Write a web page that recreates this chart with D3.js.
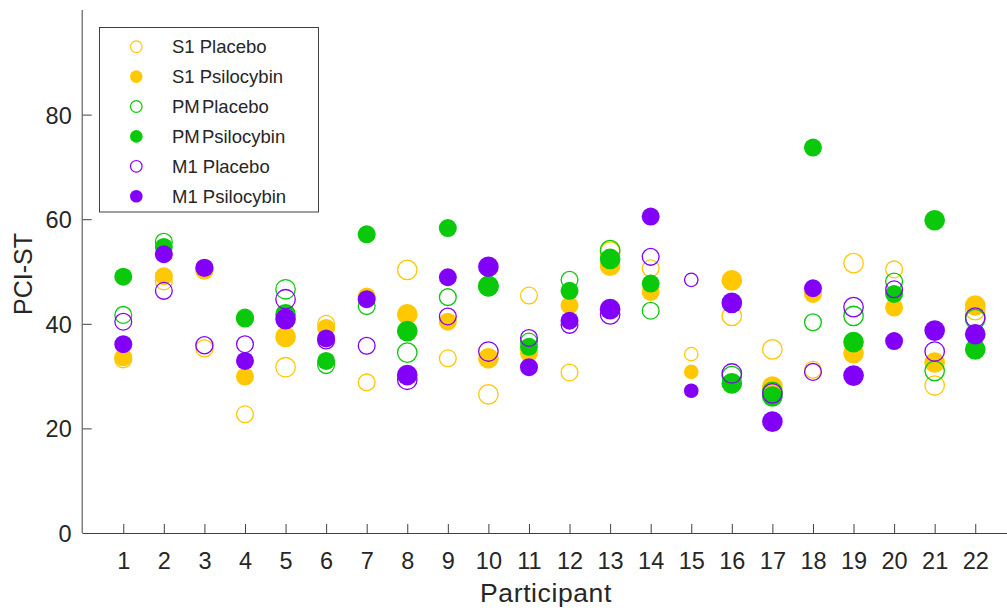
<!DOCTYPE html>
<html>
<head>
<meta charset="utf-8">
<script src="https://cdn.jsdelivr.net/npm/d3@7"></script>
<style>
  html, body { margin: 0; padding: 0; background: #fff; }
  svg { display: block; font-family: "Liberation Sans", Arial, sans-serif; }
</style>
</head>
<body>
<svg id="chart" width="1007" height="613"></svg>
<script>
// ---- data ----
const participants = [1,2,3,4,5,6,7,8,9,10,11,12,13,14,15,16,17,18,19,20,21,22];
const s1Placebo   = [33.2, 48.1, 35.3, 22.7, 31.7, 40.0, 28.8, 50.3, 33.4, 26.5, 45.4, 30.7, 53.8, 50.6, 34.2, 41.5, 35.1, 31.2, 51.6, 50.4, 28.2, 42.6];
const s1Psilocybin= [33.6, 49.1, 50.2, 29.9, 37.5, 39.2, 45.2, 41.8, 40.4, 33.4, 34.4, 43.5, 51.1, 46.1, 30.8, 48.3, 28.0, 45.7, 34.4, 43.1, 32.6, 43.5];
const pmPlacebo   = [41.7, 55.7, null, 41.2, 46.6, 32.1, 43.4, 34.5, 45.1, 47.2, 36.6, 48.4, 54.1, 42.5, null, 30.0, 27.0, 40.3, 41.5, 48.1, 31.0, 40.9];
const pmPsilocybin= [49.0, 54.7, null, 41.0, 41.8, 32.9, 57.1, 38.6, 58.3, 47.2, 35.6, 46.3, 52.4, 47.7, null, 28.6, 26.1, 73.7, 36.5, 45.7, 59.8, 35.1];
const m1Placebo   = [40.4, 46.3, 35.9, 36.1, 44.7, 36.8, 35.8, 29.3, 41.4, 34.7, 37.3, 39.8, 41.8, 52.8, 48.4, 30.5, 26.7, 30.8, 43.2, 46.6, 34.7, 41.2];
const m1Psilocybin= [36.1, 53.3, 50.7, 32.9, 40.9, 37.2, 44.7, 30.2, 48.9, 50.9, 31.7, 40.6, 42.8, 60.5, 27.2, 44.0, 21.3, 46.8, 30.1, 36.7, 38.7, 38.0];
// marker size (area units) per participant
const markerSize  = [182, 182, 190, 182, 240, 182, 182, 240, 182, 240, 182, 182, 240, 182, 120, 240, 240, 182, 240, 182, 240, 240];
const seriesNames = ["S1 Placebo", "S1 Psilocybin", "PM Placebo", "PM Psilocybin", "M1 Placebo", "M1 Psilocybin"];
const yTicks = [0, 20, 40, 60, 80];

const series = [
  {name: seriesNames[0], values: s1Placebo,    color: "#FFC800", filled: false},
  {name: seriesNames[1], values: s1Psilocybin, color: "#FFC800", filled: true},
  {name: seriesNames[2], values: pmPlacebo,    color: "#0AC80A", filled: false},
  {name: seriesNames[3], values: pmPsilocybin, color: "#0AC80A", filled: true},
  {name: seriesNames[4], values: m1Placebo,    color: "#8200F8", filled: false},
  {name: seriesNames[5], values: m1Psilocybin, color: "#8200F8", filled: true}
];

// ---- layout ----
const svg = d3.select("#chart");
const x0 = 82.7, step = 40.57;
const x = d3.scaleLinear().domain([0, 23]).range([x0, x0 + 23 * step]);
const y = d3.scaleLinear().domain([0, 100]).range([533, 10]);
const r = d3.scaleSqrt().domain([0, 100]).range([0, 6.667]);
const axisColor = "#404040";
const textColor = "#262626";

// markers
series.forEach(s => {
  const pts = participants.map((p, i) => ({p, v: s.values[i], size: markerSize[i]}))
    .filter(d => d.v !== null);
  svg.append("g").selectAll("circle").data(pts).join("circle")
    .attr("cx", d => x(d.p))
    .attr("cy", d => y(d.v))
    .attr("r", d => s.filled ? r(d.size) : r(d.size) - 0.6)
    .attr("fill", s.filled ? s.color : "none")
    .attr("stroke", s.filled ? "none" : s.color)
    .attr("stroke-width", 1.3);
});

// x axis
const xAxis = d3.axisBottom(x).tickValues(participants).tickSize(-9).tickPadding(0).tickFormat(d3.format("d"));
const gx = svg.append("g").attr("transform", "translate(0,533)").call(xAxis);
gx.select(".domain").attr("stroke", axisColor).attr("d", `M${x0},0.5H1007`);
gx.selectAll(".tick line").attr("stroke", axisColor);
gx.selectAll(".tick text").attr("fill", textColor).attr("font-size", 23.5)
  .attr("y", 36).attr("dy", 0).attr("font-family", "Liberation Sans, Arial, sans-serif");

// y axis
const yAxis = d3.axisLeft(y).tickValues(yTicks).tickSize(-9).tickPadding(11);
const gy = svg.append("g").attr("transform", `translate(${x0},0)`).call(yAxis);
gy.select(".domain").attr("stroke", axisColor).attr("d", `M-0.5,533V10`);
gy.selectAll(".tick line").attr("stroke", axisColor);
gy.selectAll(".tick text").attr("fill", textColor).attr("font-size", 23.5)
  .attr("dy", "0.36em").attr("font-family", "Liberation Sans, Arial, sans-serif");

// axis labels
svg.append("text").attr("x", 546).attr("y", 602).attr("text-anchor", "middle")
  .attr("font-size", 26.5).attr("letter-spacing", 0.6).attr("fill", textColor).text("Participant");
svg.append("text").attr("transform", "translate(32,274) rotate(-90)").attr("text-anchor", "middle")
  .attr("font-size", 25).attr("fill", textColor).text("PCI-ST");

// legend
const lg = svg.append("g");
lg.append("rect").attr("x", 99.5).attr("y", 27.5).attr("width", 219).attr("height", 184.5)
  .attr("fill", "#fff").attr("stroke", axisColor).attr("stroke-width", 1);
series.forEach((s, i) => {
  const cy = 46.7 + i * 29.9;
  lg.append("circle").attr("cx", 136.3).attr("cy", cy).attr("r", s.filled ? 6.3 : 5.8)
    .attr("fill", s.filled ? s.color : "none")
    .attr("stroke", s.filled ? "none" : s.color).attr("stroke-width", 1.2);
  lg.append("text").attr("x", 172).attr("y", cy).attr("dy", "0.36em")
    .attr("font-size", 18.5).attr("fill", textColor)
    .attr("word-spacing", s.name.startsWith("PM") ? -3 : 0)
    .text(s.name);
});
</script>
</body>
</html>
